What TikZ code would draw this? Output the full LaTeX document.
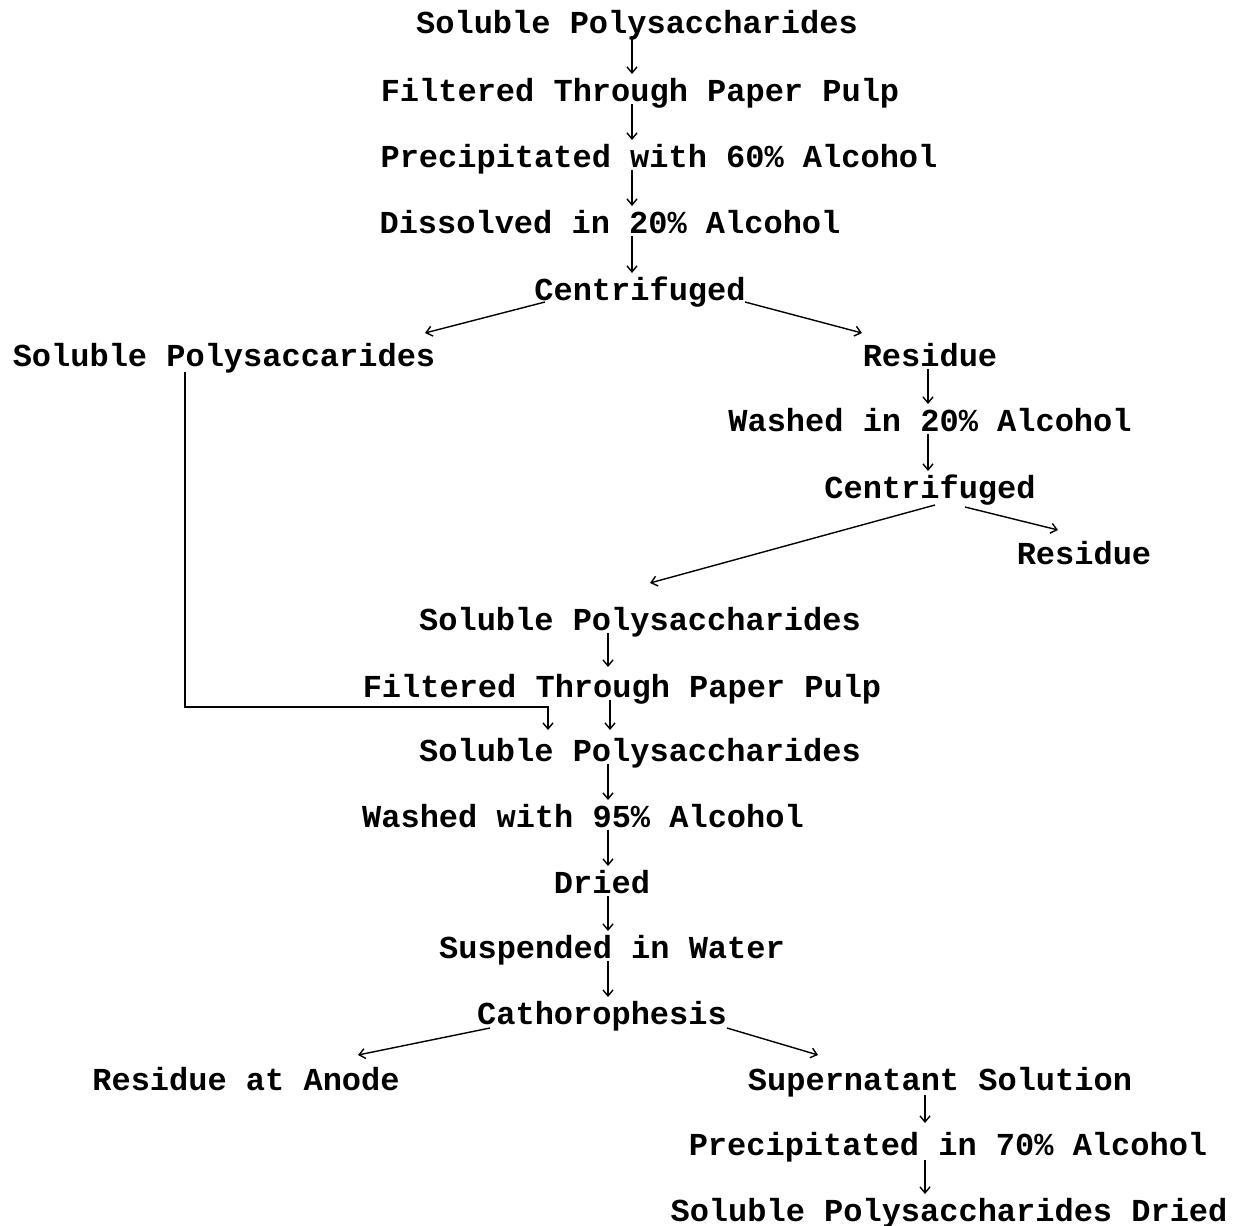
\documentclass[tikz,border=0pt]{standalone}
\usepackage{fontspec}
\setmainfont{Liberation Mono}
\usetikzlibrary{arrows.meta,calc}
\begin{document}
\begin{tikzpicture}[x=1pt,y=-1pt,
  lbl/.style={anchor=base,inner sep=1pt,font=\fontsize{32}{36}\selectfont\bfseries},
  arr/.style={line width=1.4pt,-{Straight Barb[length=6pt,width=10pt,line width=1.4pt]}},
  ln/.style={line width=1.4pt}]
\useasboundingbox (0,0) rectangle (1240,1226);
\node[lbl] (n1) at (637,33) {Soluble Polysaccharides};
\node[lbl] (n2) at (640,101) {Filtered Through Paper Pulp};
\node[lbl] (n3) at (659,167) {Precipitated with 60\% Alcohol};
\node[lbl] (n4) at (610,233) {Dissolved in 20\% Alcohol};
\node[lbl] (n5) at (640,300) {Centrifuged};
\node[lbl] (n6) at (224,366) {Soluble Polysaccarides};
\node[lbl] (n7) at (930,366) {Residue};
\node[lbl] (n8) at (930,431) {Washed in 20\% Alcohol};
\node[lbl] (n9) at (930,498) {Centrifuged};
\node[lbl] (n10) at (1084,564) {Residue};
\node[lbl] (n11) at (640,630) {Soluble Polysaccharides};
\node[lbl] (n12) at (622,697) {Filtered Through Paper Pulp};
\node[lbl] (n13) at (640,761) {Soluble Polysaccharides};
\node[lbl] (n14) at (583,827) {Washed with 95\% Alcohol};
\node[lbl] (n15) at (602,893) {Dried};
\node[lbl] (n16) at (612,958) {Suspended in Water};
\node[lbl] (n17) at (602,1024) {Cathorophesis};
\node[lbl] (n18) at (246,1090) {Residue at Anode};
\node[lbl] (n19) at (940,1090) {Supernatant Solution};
\node[lbl] (n20) at (948,1155) {Precipitated in 70\% Alcohol};
\node[lbl] (n21) at (949,1221) {Soluble Polysaccharides Dried};
% vertical arrows
\draw[arr] ($(n1.base -| 632,0)+(0,3)$) -- ($(n2.base -| 632,0)+(0,-27)$);
\draw[arr] ($(n2.base -| 632,0)+(0,3)$) -- ($(n3.base -| 632,0)+(0,-27)$);
\draw[arr] ($(n3.base -| 632,0)+(0,3)$) -- ($(n4.base -| 632,0)+(0,-27)$);
\draw[arr] ($(n4.base -| 632,0)+(0,3)$) -- ($(n5.base -| 632,0)+(0,-27)$);
\draw[arr] ($(n7.base -| 928,0)+(0,3)$) -- ($(n8.base -| 928,0)+(0,-27)$);
\draw[arr] ($(n8.base -| 928,0)+(0,3)$) -- ($(n9.base -| 928,0)+(0,-27)$);
\draw[arr] ($(n11.base -| 608,0)+(0,3)$) -- ($(n12.base -| 608,0)+(0,-30)$);
\draw[arr] ($(n12.base -| 610,0)+(0,3)$) -- ($(n13.base -| 610,0)+(0,-31)$);
\draw[arr] ($(n13.base -| 608,0)+(0,3)$) -- ($(n14.base -| 608,0)+(0,-27)$);
\draw[arr] ($(n14.base -| 608,0)+(0,3)$) -- ($(n15.base -| 608,0)+(0,-27)$);
\draw[arr] ($(n15.base -| 608,0)+(0,3)$) -- ($(n16.base -| 608,0)+(0,-27)$);
\draw[arr] ($(n16.base -| 608,0)+(0,3)$) -- ($(n17.base -| 608,0)+(0,-27)$);
\draw[arr] ($(n19.base -| 925,0)+(0,5)$) -- ($(n20.base -| 925,0)+(0,-32)$);
\draw[arr] ($(n20.base -| 925,0)+(0,5)$) -- ($(n21.base -| 925,0)+(0,-27)$);
% diagonal arrows
\draw[arr] ($(n5.base)+(-95,2)$) -- ($(n6.base)+(201,-33)$);
\draw[arr] ($(n5.base)+(105,2)$) -- ($(n7.base)+(-68,-33)$);
\draw[arr] ($(n9.base)+(35,9)$) -- ($(n10.base)+(-26,-34)$);
\draw[arr] ($(n9.base)+(5,7)$) -- ($(n11.base)+(10,-47)$);
\draw[arr] ($(n17.base)+(-112,4)$) -- ($(n18.base)+(112,-35)$);
\draw[arr] ($(n17.base)+(125,4)$) -- ($(n19.base)+(-122,-35)$);
% bypass connector
\draw[arr] ($(n6.base)+(-39,6)$) |- ($(n13.base)+(-92,-54)$) -- ($(n13.base)+(-92,-31)$);
\end{tikzpicture}
\end{document}
